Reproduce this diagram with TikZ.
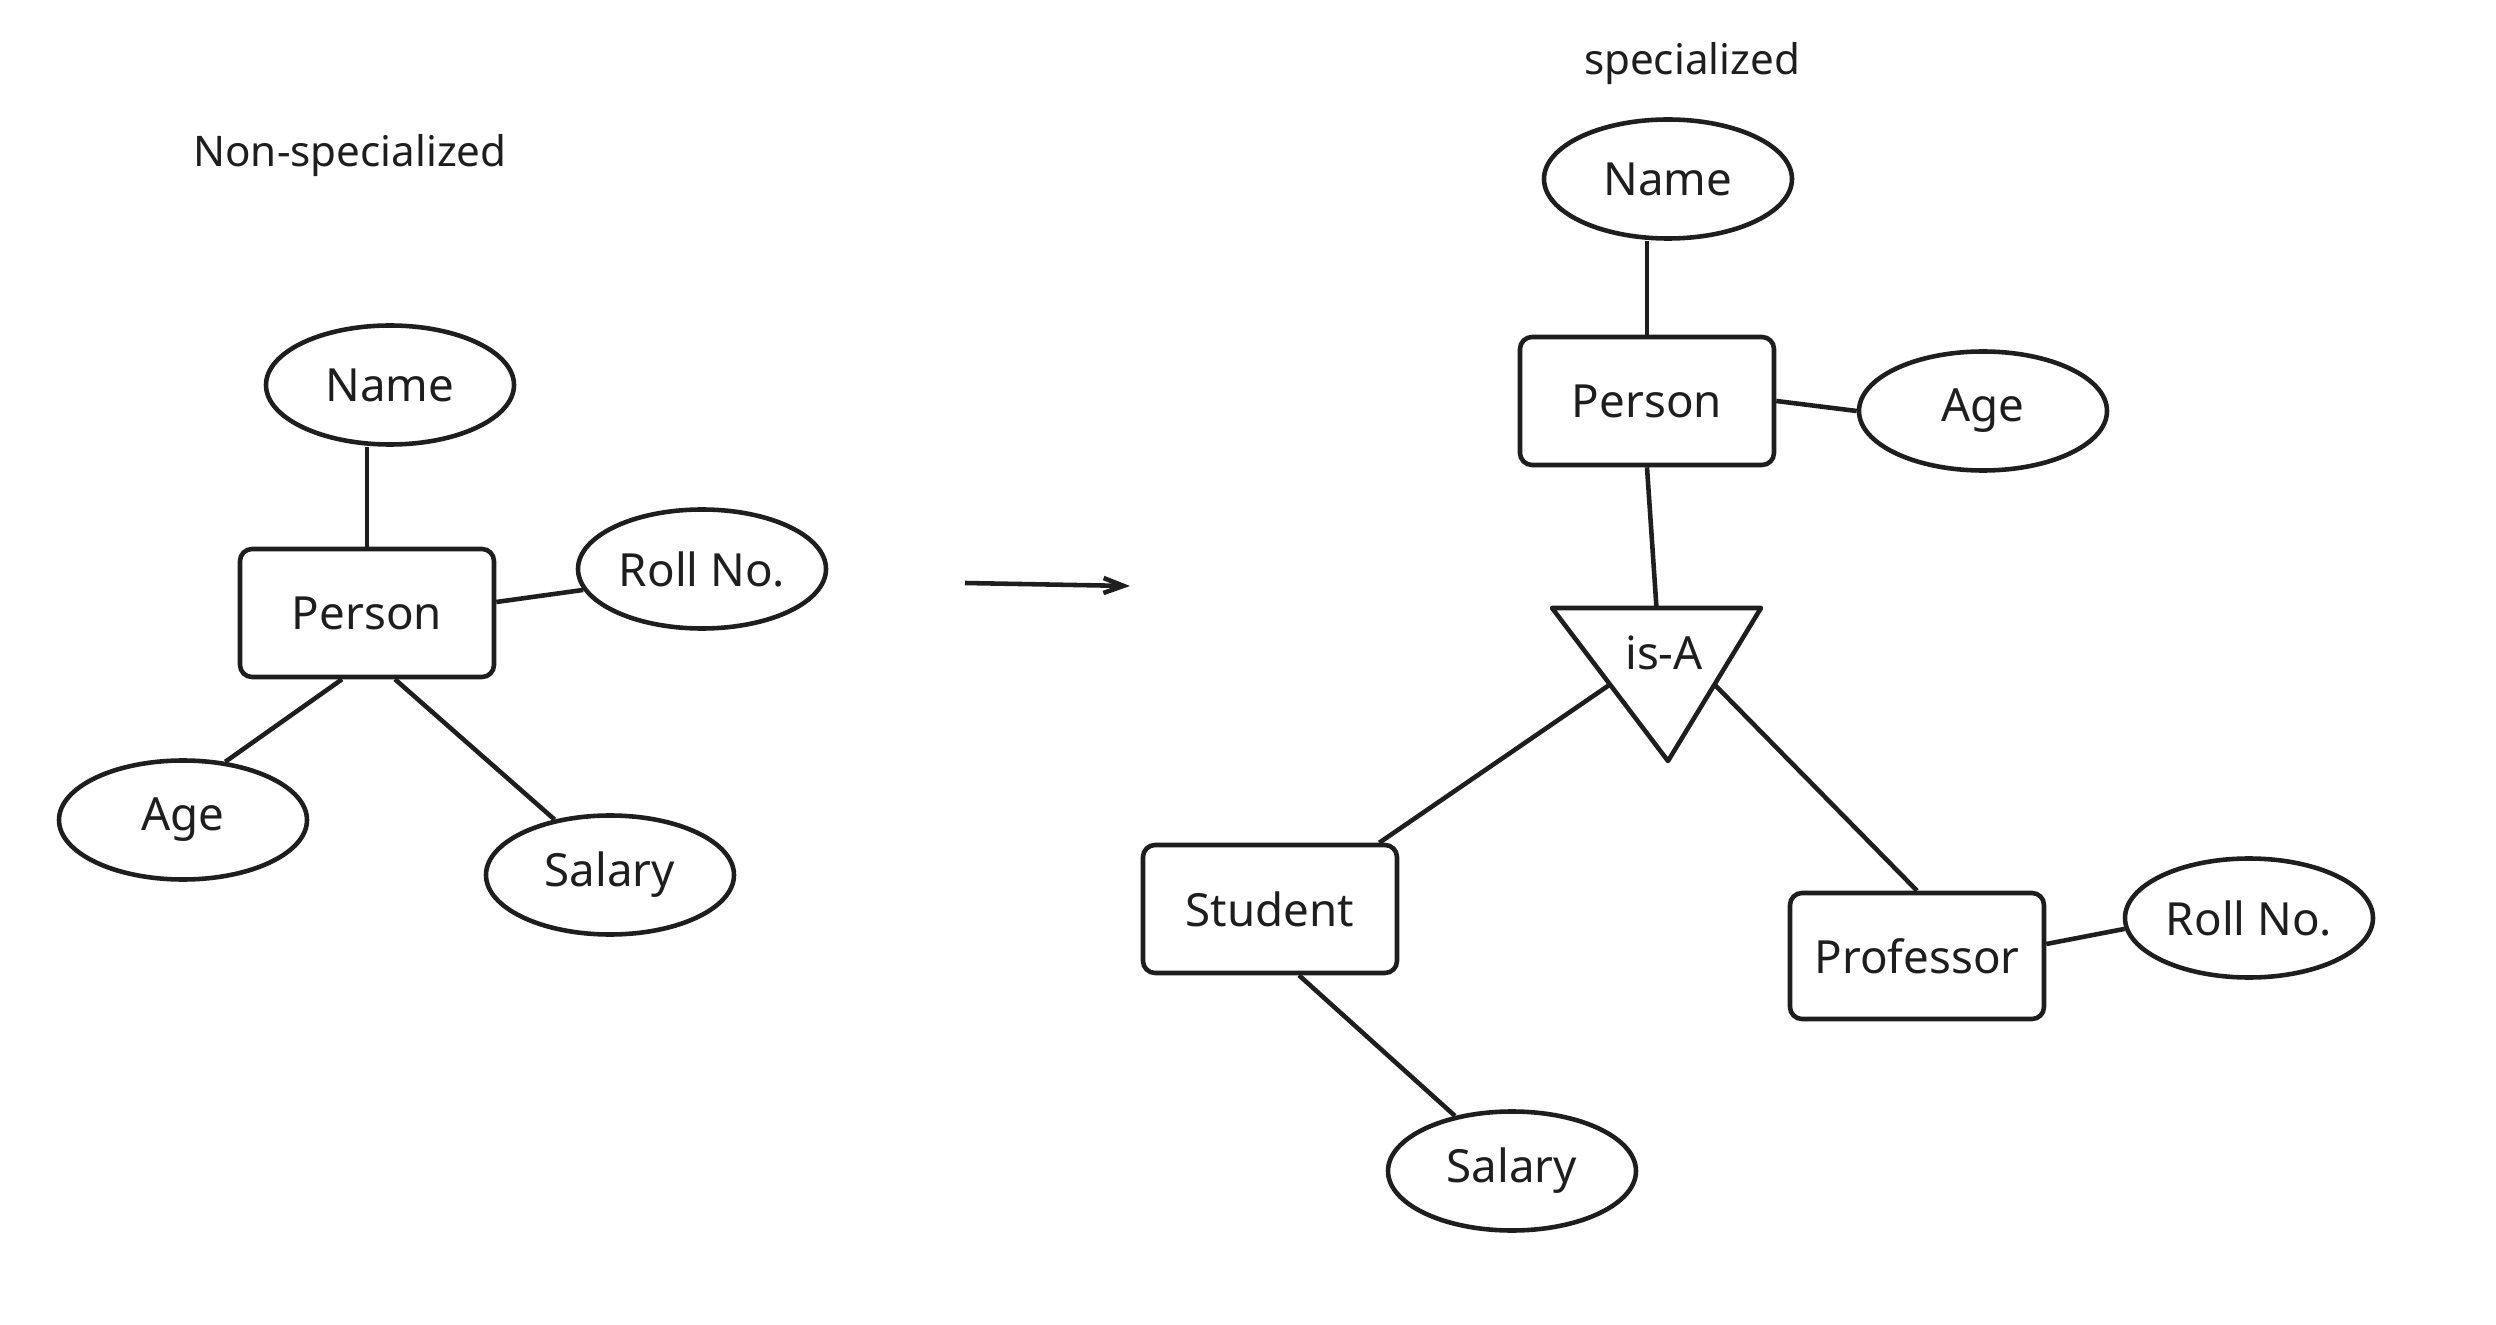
\documentclass[tikz,border=0pt]{standalone}
\usepackage{fontspec}
\setsansfont{Noto Sans}
\usetikzlibrary{arrows.meta, calc, shapes.geometric}
\definecolor{ink}{HTML}{1E1E1E}

\begin{document}
\begin{tikzpicture}[
    every node/.style={font=\sffamily\fontsize{13pt}{15pt}\selectfont, text=ink},
    ink/.style={draw=ink, line width=1.3pt},
    ent/.style={ink, rectangle, rounded corners=0.12cm, minimum width=2.54cm, minimum height=1.28cm},
    attr/.style={ink, ellipse, inner sep=0pt, minimum width=2.48cm, minimum height=1.19cm},
    title/.style={font=\sffamily\fontsize{12pt}{14pt}\selectfont},
]
\useasboundingbox (0, 0) rectangle (24.96, 13.24);

% left: the plain entity with all four attributes
\node[title] (left title) at (3.50, 11.68) {Non-specialized};
\node[ent] (person1) at (3.67, 7.11) {Person};
\foreach \n/\x/\y/\t in {name1/3.90/9.39/Name, roll1/7.02/7.55/Roll No., age1/1.83/5.04/Age, sal1/6.10/4.49/Salary}{
    \node[attr] (\n) at (\x, \y) {\t};
}
\draw[ink] (person1.north) -- (person1.north |- name1.south);
\draw[ink] ([yshift=0.11cm]person1.east) -- (roll1.190);
\draw[ink] ([xshift=-0.25cm]person1.south) -- (age1.54);
\draw[ink] ([xshift=0.28cm]person1.south) -- (sal1.135);

% middle arrow
\coordinate (from) at (9.65, 7.41);
\coordinate (to) at (11.30, 7.38);
\draw[ink, -{Straight Barb[length=2mm, width=1.5mm]}] (from) -- (to);

% right: person split by is-A into student and professor
\node[title] (right title) at (16.92, 12.60) {specialized};
\node[ent] (person2) at (16.47, 9.23) {Person};
\node[ent] (stu) at (12.70, 4.15) {Student};
\node[ent, minimum height=1.26cm] (prof) at (19.17, 3.68) {Professor};
\foreach \n/\x/\y/\t in {name2/16.68/11.45/Name, age2/19.83/9.13/Age, roll2/22.49/4.06/Roll No., sal2/15.12/1.53/Salary}{
    \node[attr] (\n) at (\x, \y) {\t};
}

\coordinate (tl) at (15.52, 7.16);
\coordinate (tr) at (17.61, 7.16);
\coordinate (tb) at (16.68, 5.63);
\draw[ink, line join=round] (tl) -- (tr) -- (tb) -- cycle;
\node (isa) at (16.64, 6.71) {is-A};
\coordinate (isatop) at ($(tl)!0.5!(tr)$);
\coordinate (isaleft) at ($(tl)!0.5!(tb)$);
\coordinate (isaright) at ($(tr)!0.5!(tb)$);

\draw[ink] (person2.north) -- (person2.north |- name2.south);
\draw[ink] (person2.east) -- (age2.west);
\draw[ink] (person2.south) -- (isatop);
\draw[ink] (isaleft) -- ([xshift=-0.2cm]stu.north east);
\draw[ink] (isaright) -- (prof.north);
\draw[ink] ([xshift=0.29cm]stu.south) -- (sal2.136);
\draw[ink] ([yshift=0.12cm]prof.east) -- (roll2.185);

\end{tikzpicture}
\end{document}
